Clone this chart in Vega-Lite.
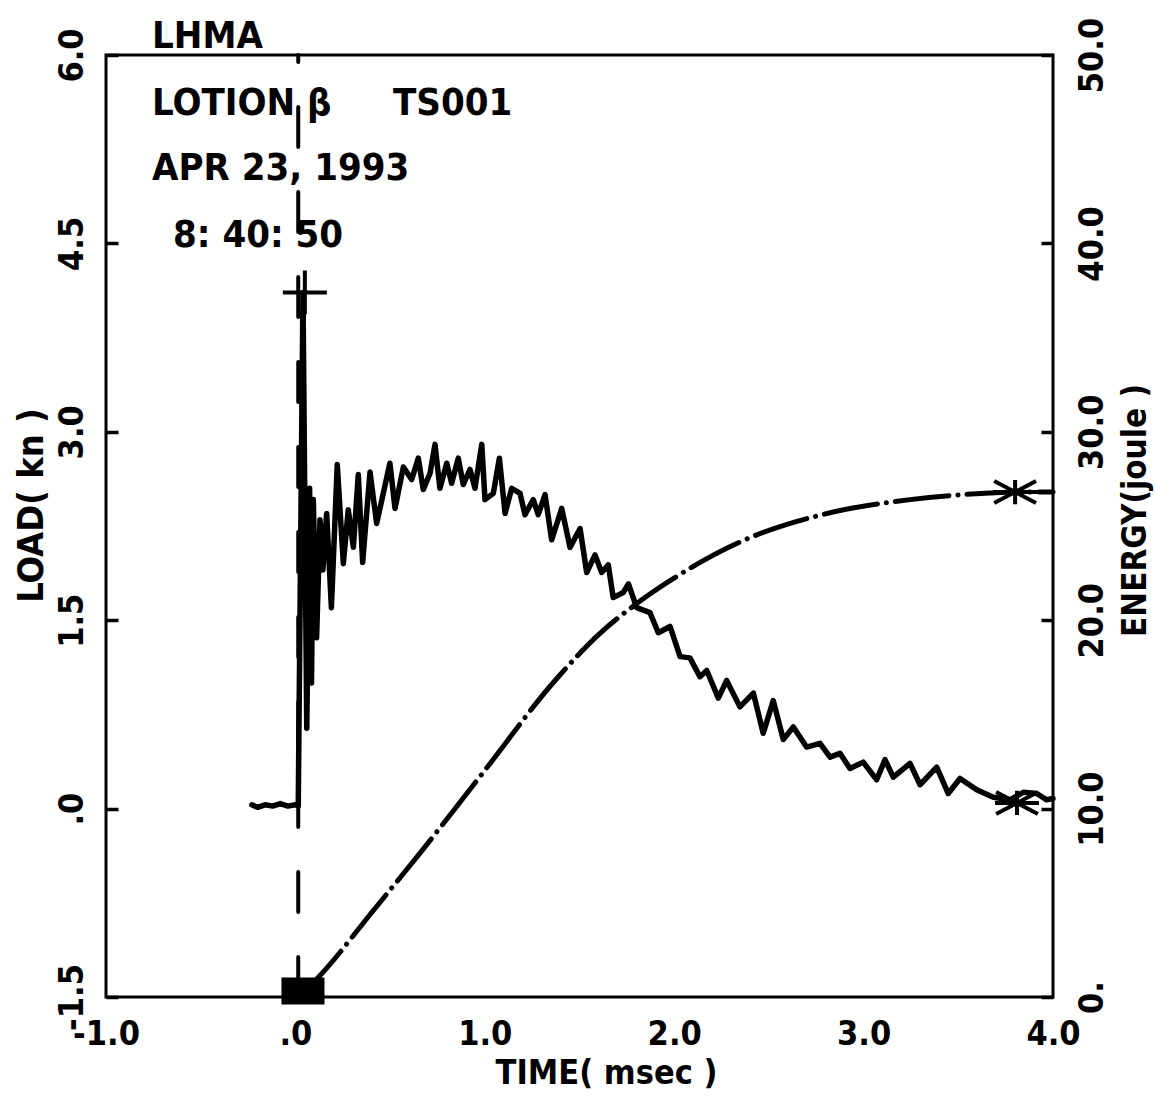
{
  "$schema": "https://vega.github.io/schema/vega-lite/v6.json",
  "width": 947,
  "height": 942,
  "autosize": {"type": "none"},
  "padding": {"left": 106, "top": 55, "right": 102, "bottom": 101},
  "background": "white",
  "config": {
    "view": {"stroke": "black", "strokeWidth": 3},
    "axis": {
      "grid": false,
      "domain": false,
      "labelFont": "DejaVu Sans Condensed, sans-serif",
      "labelFontWeight": "bold",
      "labelColor": "black",
      "labelFontSize": 34,
      "titleFont": "DejaVu Sans Condensed, sans-serif",
      "titleFontWeight": "bold",
      "titleColor": "black",
      "titleFontSize": 36,
      "tickColor": "black",
      "tickWidth": 3.5,
      "tickOpacity": 1,
      "labelFlush": false,
      "labelOverlap": false,
      "labelBound": false,
      "zindex": 1
    }
  },
  "datasets": {
    "load": [
      {"t": -0.23, "L": 0.03}, {"t": -0.2, "L": 0.01}, {"t": -0.16, "L": 0.03}, {"t": -0.12, "L": 0.02},
      {"t": -0.08, "L": 0.04}, {"t": -0.04, "L": 0.02}, {"t": 0.0, "L": 0.03}, {"t": 0.015, "L": 0.02},
      {"t": 0.04, "L": 4.11}, {"t": 0.06, "L": 0.64}, {"t": 0.075, "L": 2.55}, {"t": 0.085, "L": 1.0},
      {"t": 0.0945, "L": 2.46}, {"t": 0.112, "L": 1.36}, {"t": 0.13, "L": 2.3}, {"t": 0.145, "L": 1.9},
      {"t": 0.165, "L": 2.35}, {"t": 0.19, "L": 1.6}, {"t": 0.221, "L": 2.74}, {"t": 0.253, "L": 1.95},
      {"t": 0.279, "L": 2.38}, {"t": 0.306, "L": 2.08}, {"t": 0.332, "L": 2.66}, {"t": 0.355, "L": 1.96},
      {"t": 0.394, "L": 2.68}, {"t": 0.429, "L": 2.27}, {"t": 0.464, "L": 2.51}, {"t": 0.499, "L": 2.75},
      {"t": 0.526, "L": 2.39}, {"t": 0.57, "L": 2.72}, {"t": 0.614, "L": 2.62}, {"t": 0.649, "L": 2.79},
      {"t": 0.675, "L": 2.54}, {"t": 0.711, "L": 2.67}, {"t": 0.737, "L": 2.9}, {"t": 0.763, "L": 2.55},
      {"t": 0.799, "L": 2.75}, {"t": 0.825, "L": 2.59}, {"t": 0.86, "L": 2.79}, {"t": 0.886, "L": 2.58},
      {"t": 0.922, "L": 2.7}, {"t": 0.948, "L": 2.55}, {"t": 0.984, "L": 2.9}, {"t": 1.001, "L": 2.46},
      {"t": 1.045, "L": 2.51}, {"t": 1.077, "L": 2.79}, {"t": 1.107, "L": 2.35}, {"t": 1.142, "L": 2.55},
      {"t": 1.186, "L": 2.51}, {"t": 1.212, "L": 2.34}, {"t": 1.256, "L": 2.46}, {"t": 1.282, "L": 2.34},
      {"t": 1.318, "L": 2.5}, {"t": 1.353, "L": 2.14}, {"t": 1.406, "L": 2.39}, {"t": 1.45, "L": 2.08},
      {"t": 1.503, "L": 2.23}, {"t": 1.538, "L": 1.88}, {"t": 1.582, "L": 2.02}, {"t": 1.617, "L": 1.88},
      {"t": 1.652, "L": 1.94}, {"t": 1.678, "L": 1.68}, {"t": 1.731, "L": 1.72}, {"t": 1.758, "L": 1.79},
      {"t": 1.802, "L": 1.6}, {"t": 1.872, "L": 1.56}, {"t": 1.916, "L": 1.4}, {"t": 1.978, "L": 1.45},
      {"t": 2.031, "L": 1.21}, {"t": 2.083, "L": 1.2}, {"t": 2.136, "L": 1.05}, {"t": 2.172, "L": 1.1},
      {"t": 2.233, "L": 0.88}, {"t": 2.277, "L": 1.02}, {"t": 2.347, "L": 0.81}, {"t": 2.418, "L": 0.92},
      {"t": 2.47, "L": 0.6}, {"t": 2.523, "L": 0.86}, {"t": 2.576, "L": 0.55}, {"t": 2.629, "L": 0.65},
      {"t": 2.699, "L": 0.49}, {"t": 2.77, "L": 0.52}, {"t": 2.823, "L": 0.41}, {"t": 2.875, "L": 0.44},
      {"t": 2.928, "L": 0.32}, {"t": 2.998, "L": 0.37}, {"t": 3.069, "L": 0.23}, {"t": 3.113, "L": 0.39},
      {"t": 3.157, "L": 0.25}, {"t": 3.245, "L": 0.36}, {"t": 3.298, "L": 0.19}, {"t": 3.386, "L": 0.33},
      {"t": 3.447, "L": 0.12}, {"t": 3.509, "L": 0.24}, {"t": 3.597, "L": 0.15}, {"t": 3.685, "L": 0.09},
      {"t": 3.773, "L": 0.07}, {"t": 3.843, "L": 0.13}, {"t": 3.914, "L": 0.12}, {"t": 3.967, "L": 0.07},
      {"t": 4.0, "L": 0.08}
    ],
    "energy": [
      {"t": 0.05, "E": 0.3}, {"t": 0.156, "E": 1.43}, {"t": 0.404, "E": 4.5}, {"t": 0.658, "E": 7.64},
      {"t": 0.99, "E": 11.9}, {"t": 1.371, "E": 16.8}, {"t": 1.608, "E": 19.3}, {"t": 1.804, "E": 20.9},
      {"t": 1.978, "E": 22.1}, {"t": 2.347, "E": 24.15}, {"t": 2.78, "E": 25.6}, {"t": 3.245, "E": 26.4},
      {"t": 3.667, "E": 26.75}, {"t": 3.8, "E": 26.8}, {"t": 4.0, "E": 26.8}
    ],
    "annot": [
      {"t": -0.757, "L": 6.056, "label": "LHMA"},
      {"t": -0.757, "L": 5.522, "label": "LOTION β"},
      {"t": 0.515, "L": 5.522, "label": "TS001"},
      {"t": -0.757, "L": 5.005, "label": "APR 23, 1993"},
      {"t": -0.646, "L": 4.471, "label": "8: 40: 50"}
    ],
    "xticks": [{"t": 0}, {"t": 1}, {"t": 2}, {"t": 3}]
  },
  "layer": [
    {
      "encoding": {
        "x": {
          "field": "t", "type": "quantitative",
          "scale": {"domain": [-1, 4], "nice": false, "zero": false},
          "axis": {
            "orient": "bottom",
            "values": [-1, 0, 1, 2, 3, 4],
            "labelExpr": "datum.value == 0 ? '.0' : datum.value == -1 ? '-1.0' : format(datum.value, '.1f')",
            "labelBaseline": "top",
            "labelAlign": "center",
            "labelPadding": 20,
            "ticks": false,
            "title": "TIME( msec )",
            "titleX": 500,
            "titleY": 76,
            "titleAlign": "center",
            "titleBaseline": "middle",
            "titleFontSize": 34
          }
        },
        "y": {
          "field": "L", "type": "quantitative",
          "scale": {"domain": [-1.5, 6], "nice": false, "zero": false},
          "axis": {
            "orient": "left",
            "values": [-1.5, 0, 1.5, 3, 4.5, 6],
            "labelExpr": "datum.value == 0 ? '.0' : datum.value == -1.5 ? '-1.5' : format(datum.value, '.1f')",
            "labelAngle": 270,
            "labelAlign": "center",
            "labelBaseline": "middle",
            "labelPadding": 46,
            "tickSize": -12,
            "title": "LOAD( kn )",
            "titleAngle": 270,
            "titleX": -75,
            "titleY": 450,
            "titleAlign": "center",
            "titleBaseline": "middle",
            "titleFontSize": 36
          }
        }
      },
      "layer": [
        {
          "data": {"name": "xticks"},
          "mark": {"type": "rule", "color": "black", "strokeWidth": 3.5},
          "encoding": {"y": {"datum": -1.5}, "y2": {"datum": -1.404}}
        },
        {
          "data": {"name": "xticks"},
          "mark": {"type": "rule", "color": "black", "strokeWidth": 3.5},
          "encoding": {"y": {"datum": 6}, "y2": {"datum": 5.896}}
        },
        {
          "data": {"name": "load"},
          "mark": {"type": "line", "color": "black", "strokeWidth": 5.5, "strokeJoin": "round", "strokeCap": "round"}
        },
        {
          "data": {"values": [{"t": 0.015, "L": -1.5, "L2": 6}]},
          "mark": {"type": "rule", "color": "black", "strokeWidth": 4, "strokeDash": [40, 45], "strokeCap": "round"},
          "encoding": {"y2": {"field": "L2"}}
        },
        {
          "data": {"values": [{"t": 0.05, "L": 4.11}]},
          "mark": {"type": "point", "shape": "M-1,0H1M0,-1V1", "size": 1936, "filled": false, "color": "black", "opacity": 1, "strokeWidth": 4}
        },
        {
          "data": {"values": [{"t": 3.81, "L": 0.045}]},
          "mark": {"type": "point", "shape": "M-1,0H1M0,-0.55V0.55M-0.95,-0.5L0.95,0.5M-0.95,0.5L0.95,-0.5", "size": 1936, "filled": false, "color": "black", "opacity": 1, "strokeWidth": 4}
        },
        {
          "data": {"values": [{"t": 0.04, "L": -1.452}]},
          "mark": {"type": "point", "shape": "M-1,-0.6H1V0.6H-1Z", "size": 1600, "filled": true, "color": "black", "opacity": 1, "stroke": "black", "strokeWidth": 3}
        },
        {
          "data": {"name": "annot"},
          "mark": {"type": "text", "align": "left", "baseline": "alphabetic", "fontSize": 38, "fontWeight": "bold", "font": "DejaVu Sans Condensed, sans-serif", "color": "black"},
          "encoding": {"text": {"field": "label"}}
        }
      ]
    },
    {
      "encoding": {
        "x": {
          "field": "t", "type": "quantitative",
          "scale": {"domain": [-1, 4], "nice": false, "zero": false},
          "axis": null
        },
        "y": {
          "field": "E", "type": "quantitative",
          "scale": {"domain": [0, 50], "nice": false, "zero": false},
          "axis": {
            "orient": "right",
            "values": [0, 10, 20, 30, 40, 50],
            "labelExpr": "datum.value == 0 ? '0.' : format(datum.value, '.1f')",
            "labelAngle": 270,
            "labelAlign": "center",
            "labelBaseline": "middle",
            "labelPadding": 51,
            "tickSize": -12,
            "title": "ENERGY(joule )",
            "titleAngle": 270,
            "titleX": 82,
            "titleY": 455,
            "titleAlign": "center",
            "titleBaseline": "middle",
            "titleFontSize": 33
          }
        }
      },
      "layer": [
        {
          "data": {"name": "energy"},
          "mark": {"type": "line", "color": "black", "strokeWidth": 5, "strokeCap": "round", "strokeDash": [54, 9, 0.1, 9], "interpolate": "monotone"}
        },
        {
          "data": {"values": [{"t": 3.8, "E": 26.8}]},
          "mark": {"type": "point", "shape": "M-1,0H1M0,-0.55V0.55M-0.95,-0.5L0.95,0.5M-0.95,0.5L0.95,-0.5", "size": 1936, "filled": false, "color": "black", "opacity": 1, "strokeWidth": 4}
        }
      ]
    }
  ],
  "resolve": {"scale": {"y": "independent"}, "axis": {"x": "independent", "y": "independent"}}
}
